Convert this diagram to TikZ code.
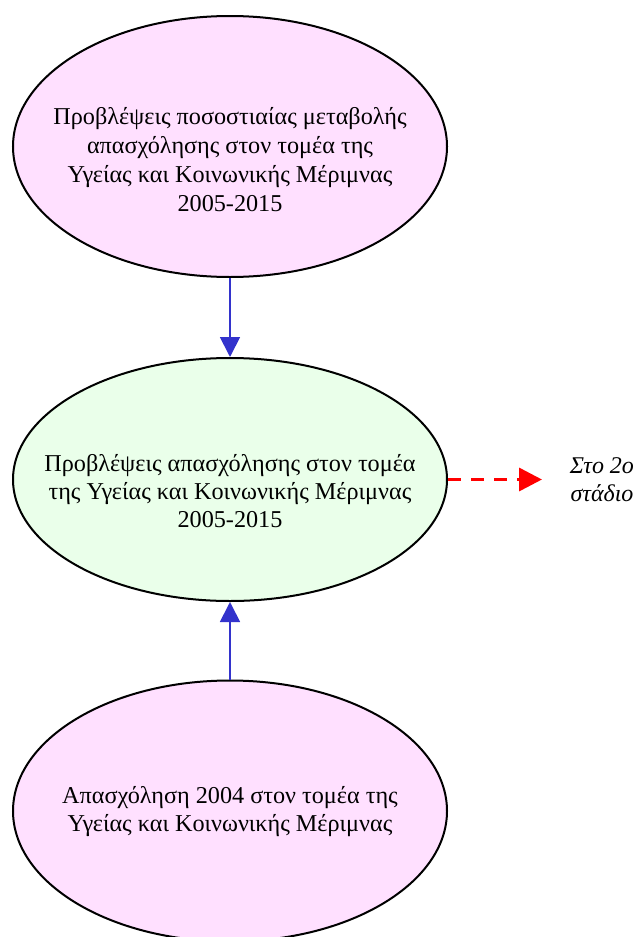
\documentclass[tikz,border=0pt]{standalone}
\usepackage{fontspec}
\setmainfont{Liberation Serif}
\usetikzlibrary{arrows.meta,shapes.geometric}
\definecolor{pinkfill}{HTML}{FFE0FF}
\definecolor{greenfill}{HTML}{EAFFEA}
\definecolor{arrowblue}{HTML}{3333CC}
\begin{document}
\begin{tikzpicture}[x=1pt,y=-1pt,
  bubble/.style={ellipse,draw=black,line width=2pt,inner sep=0pt,minimum width=434pt,minimum height=261pt},
  label/.style={align=center,font=\fontsize{24.2}{29}\selectfont},
  label2/.style={align=center,font=\fontsize{24.2}{28.3}\selectfont},
  link/.style={draw=arrowblue,line width=1.8pt,-{Triangle[length=20pt,width=20pt]}},
  next/.style={draw=red,line width=3.5pt,dash pattern=on 13pt off 10pt,-{Triangle[length=23pt,width=23pt]}}]
\useasboundingbox (0,0) rectangle (639,937);
\begin{scope}
\clip (0,0) rectangle (639,937);
\node[bubble,fill=pinkfill] (top) at (230,146.5) {};
\node[bubble,fill=greenfill,minimum height=243pt] (mid) at (230,479.5) {};
\node[bubble,fill=pinkfill] (bot) at (230,811) {};
\end{scope}
\node[label] (toptext) at (230,159.5) {Προβλέψεις ποσοστιαίας μεταβολής\\απασχόλησης στον τομέα της\\Υγείας και Κοινωνικής Μέριμνας\\2005-2015};
\node[label2] (midtext) at (230,491) {Προβλέψεις απασχόλησης στον τομέα\\της Υγείας και Κοινωνικής Μέριμνας\\2005-2015};
\node[label2] (bottext) at (230,811.5) {Απασχόληση 2004 στον τομέα της\\Υγείας και Κοινωνικής Μέριμνας};
\node[label2,font=\fontsize{24}{28}\selectfont\itshape] (stage) at (602,480) {Στο 2ο\\στάδιο};
\coordinate (stagein) at (542,479.5);
\draw[link] (top.south) -- (mid.north);
\draw[link] (bot.north) -- (mid.south);
\draw[next] (mid.east) -- (stagein);
\end{tikzpicture}
\end{document}
